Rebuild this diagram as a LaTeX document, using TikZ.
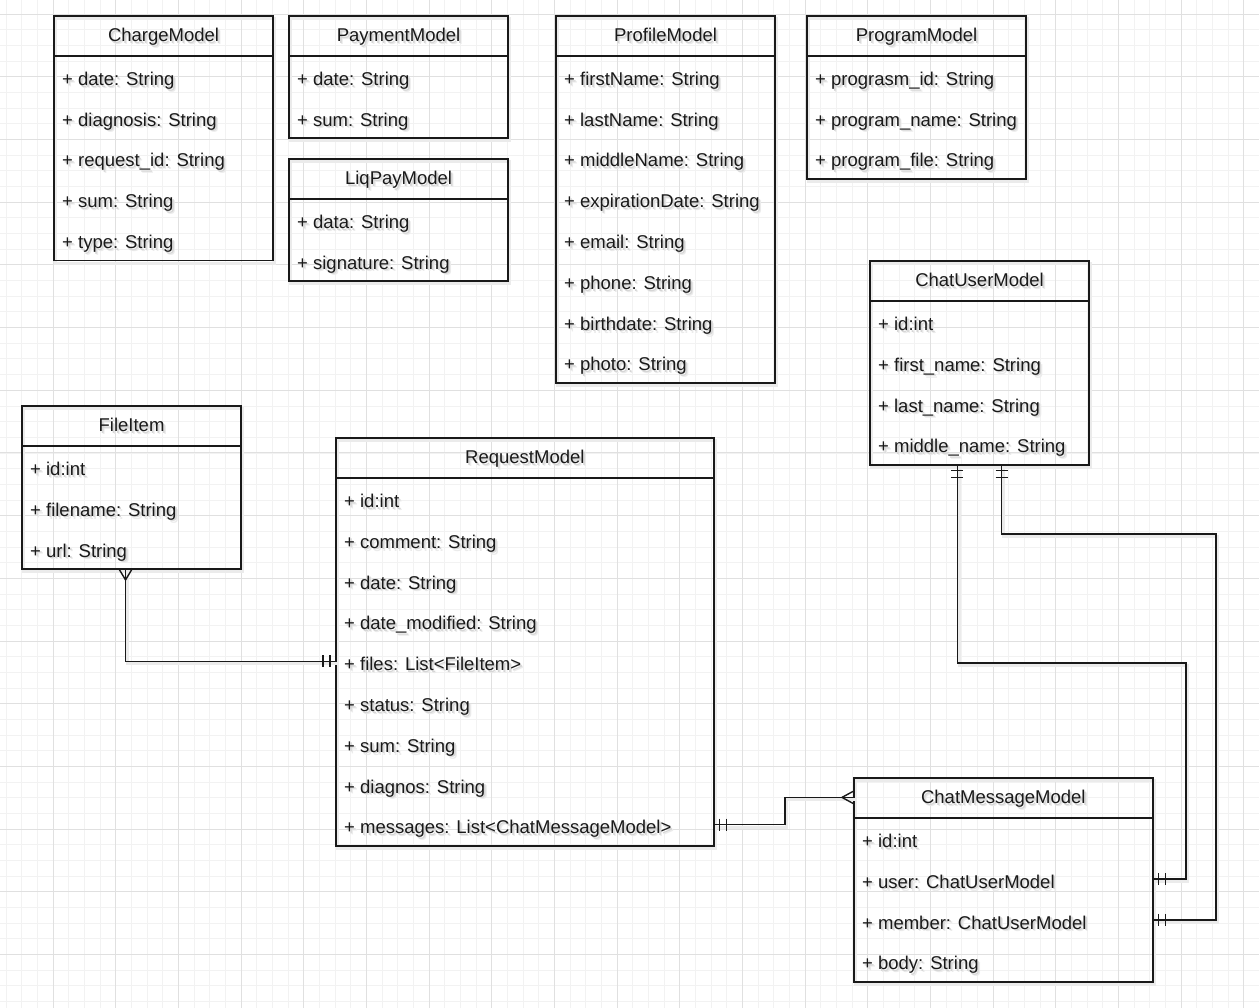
\documentclass[tikz,border=0pt]{standalone}
\usepackage{fontspec}
\setmainfont{Liberation Sans}
\usetikzlibrary{calc}

% text with a soft grey drop shadow
\newcommand\shtext[1]{%
  \makebox[0pt][l]{\kern2.8pt\raisebox{-2.8pt}[0pt][0pt]{\color{black!8}#1}}%
  \makebox[0pt][l]{\kern1.7pt\raisebox{-1.7pt}[0pt][0pt]{\color{black!16}#1}}%
  #1}

\tikzset{
  lineshadow/.style={preaction={draw=black!8, line width=3pt,
      transform canvas={xshift=1.6pt,yshift=-2.4pt}}},
  classbox/.style={draw=black!90, line width=1.7pt, inner sep=0pt, lineshadow},
  sepline/.style={draw=black!90, line width=1.7pt},
  titletext/.style={inner sep=0pt, anchor=base, text=black!90,
      font=\fontsize{18.5}{22}\selectfont},
  rowtext/.style={inner sep=0pt, anchor=base west, text=black!90,
      font=\fontsize{18.5}{22}\selectfont},
  conn/.style={draw=black!90, line width=1.6pt, lineshadow},
  endbar/.style={draw=black!90, line width=1.4pt},
  minorgrid/.style={draw=black!5, line width=0.9pt},
  majorgrid/.style={draw=black!12, line width=1pt},
}

% #1 id, #2 x, #3 y, #4 width, #5 number of rows, #6 title, #7 rows
\newcommand\umlclass[7]{%
  \pgfmathsetmacro\boxh{40.8*(#5+1)}
  \node[classbox, minimum width=#4pt, minimum height=\boxh pt,
        anchor=north west] (#1) at (#2,#3) {};
  \draw[sepline] ([yshift=-40.8pt]#1.north west) -- ([yshift=-40.8pt]#1.north east);
  \node[titletext] (#1-t) at ([yshift=-26.7pt]#1.north) {\shtext{#6}};
  \foreach \r [count=\i] in {#7} {
    \node[rowtext] (#1-\i) at ([xshift=9pt, yshift={-(\i*40.8pt+29.6pt)}]#1.north west)
      {\shtext{\r}};
  }
}

\begin{document}
\begin{tikzpicture}[x=1pt, y=-1pt]
\useasboundingbox (0,0) rectangle (1259,1008);
\fill[white] (0,0) rectangle (1259,1008);

% background grid
\foreach \k in {0,...,81}
  \draw[minorgrid] ({-9.68+15.67*\k},0) -- ++(0,1008);
\foreach \k in {0,...,68}
  \draw[minorgrid] (0,{-48.48+15.67*\k}) -- ++(1259,0);
\foreach \k in {0,...,20}
  \draw[majorgrid] ({-9.68+62.68*\k},0) -- ++(0,1008);
\foreach \k in {0,...,17}
  \draw[majorgrid] (0,{-48.48+62.68*\k}) -- ++(1259,0);

% classes
\umlclass{charge}{53}{15}{219.4}{5}{ChargeModel}
  {+ date: String, + diagnosis: String, + request\_id: String, + sum: String, + type: String}
\umlclass{payment}{288}{15}{219.4}{2}{PaymentModel}
  {+ date: String, + sum: String}
\umlclass{liqpay}{288}{158}{219.4}{2}{LiqPayModel}
  {+ data: String, + signature: String}
\umlclass{profile}{555}{15}{219.4}{8}{ProfileModel}
  {+ firstName: String, + lastName: String, + middleName: String, + expirationDate: String,
   + email: String, + phone: String, + birthdate: String, + photo: String}
\umlclass{program}{806}{15}{219.4}{3}{ProgramModel}
  {+ prograsm\_id: String, + program\_name: String, + program\_file: String}
\umlclass{chatuser}{869}{260}{219.4}{4}{ChatUserModel}
  {+ id:int, + first\_name: String, + last\_name: String, + middle\_name: String}
\umlclass{fileitem}{21}{405}{219.4}{3}{FileItem}
  {+ id:int, + filename: String, + url: String}
\umlclass{request}{335}{437}{378}{9}{RequestModel}
  {+ id:int, + comment: String, + date: String, + date\_modified: String,
   + files: List<FileItem>, + status: String, + sum: String, + diagnos: String,
   + messages: List<ChatMessageModel>}
\umlclass{chatmsg}{853}{777}{299}{4}{ChatMessageModel}
  {+ id:int, + user: ChatUserModel, + member: ChatUserModel, + body: String}

% connector end points on the class boxes (middle of the attribute rows)
\coordinate (fa) at ([xshift=-6pt]fileitem.south);
\coordinate (fb) at ([yshift=-224.4pt]request.north west);
\coordinate (ma) at ([yshift=-387.6pt]request.north east);
\coordinate (mb) at ([yshift=-20.4pt]chatmsg.north west);
\coordinate (ua) at ($(chatuser.south west)!0.4!(chatuser.south east)$);
\coordinate (ub) at ([yshift=-102pt]chatmsg.north east);
\coordinate (va) at ($(chatuser.south west)!0.6!(chatuser.south east)$);
\coordinate (vb) at ([yshift=-142.8pt]chatmsg.north east);

% FileItem (many) -- RequestModel.files (one)
\draw[conn] (fa) |- (fb);
\draw[endbar] ([yshift=-10pt]fa) -- ([xshift=-6pt]fa);
\draw[endbar] ([yshift=-10pt]fa) -- ([xshift=6pt]fa);
\draw[endbar] ([xshift=-5pt,yshift=6pt]fb) -- ++(0,12);
\draw[endbar] ([xshift=-12pt,yshift=6pt]fb) -- ++(0,12);

% RequestModel.messages (one) -- ChatMessageModel (many)
\draw[conn] (ma) -- ++(70,0) |- (mb);
\draw[endbar] ([xshift=5pt,yshift=6pt]ma) -- ++(0,12);
\draw[endbar] ([xshift=12pt,yshift=6pt]ma) -- ++(0,12);
\draw[endbar] ([xshift=-11pt]mb) -- ([yshift=6pt]mb);
\draw[endbar] ([xshift=-11pt]mb) -- ([yshift=-6pt]mb);

% ChatUserModel (one) -- ChatMessageModel.user (one)
\draw[conn] (ua) -- ++(0,197) -| ([xshift=32pt]ub) -- (ub);
\draw[endbar] ([xshift=-6pt,yshift=-5pt]ua) -- ++(12,0);
\draw[endbar] ([xshift=-6pt,yshift=-12pt]ua) -- ++(12,0);
\draw[endbar] ([xshift=5pt,yshift=6pt]ub) -- ++(0,12);
\draw[endbar] ([xshift=12pt,yshift=6pt]ub) -- ++(0,12);

% ChatUserModel (one) -- ChatMessageModel.member (one)
\draw[conn] (va) -- ++(0,68) -| ([xshift=62pt]vb) -- (vb);
\draw[endbar] ([xshift=-6pt,yshift=-5pt]va) -- ++(12,0);
\draw[endbar] ([xshift=-6pt,yshift=-12pt]va) -- ++(12,0);
\draw[endbar] ([xshift=5pt,yshift=6pt]vb) -- ++(0,12);
\draw[endbar] ([xshift=12pt,yshift=6pt]vb) -- ++(0,12);
\end{tikzpicture}
\end{document}
